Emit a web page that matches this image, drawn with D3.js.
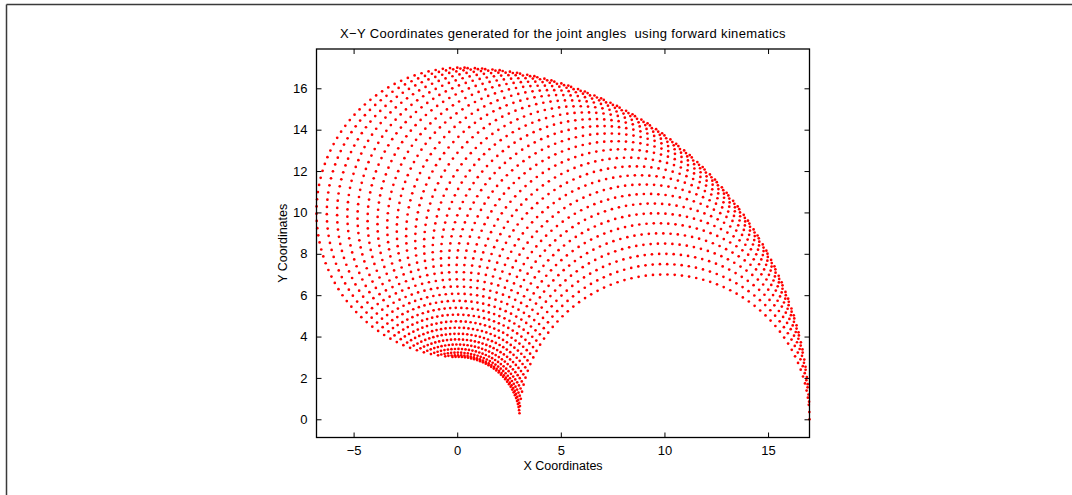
<!DOCTYPE html>
<html>
<head>
<meta charset="utf-8">
<script src="https://cdn.jsdelivr.net/npm/d3@7"></script>
<style>
  html, body { margin: 0; padding: 0; background: #fff; }
  svg { display: block; }
  text { font-family: "Liberation Sans", Arial, Helvetica, sans-serif; fill: #000; }
</style>
</head>
<body>
<svg id="chart" width="1072" height="495"></svg>
<script>
// Link lengths of the two-link planar arm
const l1 = 10;
const l2 = 7;

// Joint angle samples (radians)
const theta1 = [0, 0.05, 0.10, 0.15, 0.20, 0.25, 0.30, 0.35, 0.40, 0.45, 0.50, 0.55, 0.60, 0.65, 0.70, 0.75,
                0.80, 0.85, 0.90, 0.95, 1.00, 1.05, 1.10, 1.15, 1.20, 1.25, 1.30, 1.35, 1.40, 1.45, 1.50, 1.55];
const theta2 = [0, 0.05, 0.10, 0.15, 0.20, 0.25, 0.30, 0.35, 0.40, 0.45, 0.50, 0.55, 0.60, 0.65, 0.70, 0.75,
                0.80, 0.85, 0.90, 0.95, 1.00, 1.05, 1.10, 1.15, 1.20, 1.25, 1.30, 1.35, 1.40, 1.45, 1.50, 1.55,
                1.60, 1.65, 1.70, 1.75, 1.80, 1.85, 1.90, 1.95, 2.00, 2.05, 2.10, 2.15, 2.20, 2.25, 2.30, 2.35,
                2.40, 2.45, 2.50, 2.55, 2.60, 2.65, 2.70, 2.75, 2.80, 2.85, 2.90, 2.95, 3.00, 3.05, 3.10];

// Axis ticks and labels
const xTicks = [-5, 0, 5, 10, 15];
const yTicks = [0, 2, 4, 6, 8, 10, 12, 14, 16];
const xDomain = [-6.79, 17.0];
const yDomain = [-0.88, 17.9];
const titleText = "X\u2212Y Coordinates generated for the joint angles  using forward kinematics";
const xLabel = "X Coordinates";
const yLabel = "Y Coordinates";

// Forward kinematics: end-effector position for every (theta1, theta2) pair
const points = [];
theta1.forEach(t1 => {
  theta2.forEach(t2 => {
    points.push({
      x: l1 * Math.cos(t1) + l2 * Math.cos(t1 + t2),
      y: l1 * Math.sin(t1) + l2 * Math.sin(t1 + t2)
    });
  });
});

const svg = d3.select("#chart");
const box = { left: 316.5, right: 809.5, top: 49, bottom: 437.5 };

const x = d3.scaleLinear().domain(xDomain).range([box.left, box.right]);
const y = d3.scaleLinear().domain(yDomain).range([box.bottom, box.top]);

// Figure frame
svg.append("line").attr("x1", 6.5).attr("y1", 4.5).attr("x2", 1072).attr("y2", 4.5)
  .attr("stroke", "#3a3a3a").attr("stroke-width", 1.5);
svg.append("line").attr("x1", 6.5).attr("y1", 4.5).attr("x2", 6.5).attr("y2", 495)
  .attr("stroke", "#3a3a3a").attr("stroke-width", 1.5);

// Scatter of end-effector positions
const plot = svg.append("g");
plot.selectAll("circle").data(points).join("circle")
  .attr("cx", d => x(d.x))
  .attr("cy", d => y(d.y))
  .attr("r", 1.35)
  .attr("fill", "#ff0000");

// Axes with inward ticks on all four sides
const tk = 5;
const fs = "13px";
const axB = d3.axisBottom(x).tickValues(xTicks).tickSizeInner(-tk).tickSizeOuter(0).tickPadding(8)
  .tickFormat(d => d < 0 ? "\u2212" + Math.abs(d) : d);
const axT = d3.axisTop(x).tickValues(xTicks).tickSizeInner(-tk).tickSizeOuter(0).tickFormat("");
const axL = d3.axisLeft(y).tickValues(yTicks).tickSizeInner(-tk).tickSizeOuter(0).tickPadding(9);
const axR = d3.axisRight(y).tickValues(yTicks).tickSizeInner(-tk).tickSizeOuter(0).tickFormat("");

function style(g) {
  g.select(".domain").remove();
  g.selectAll(".tick line").attr("stroke", "#000").attr("stroke-width", 1);
  g.selectAll(".tick text").style("font-size", fs).style("font-family", '"Liberation Sans", Arial, sans-serif').attr("fill", "#000");
}
svg.append("g").attr("transform", `translate(0,${box.bottom})`).call(axB).call(style);
svg.append("g").attr("transform", `translate(0,${box.top})`).call(axT).call(style);
svg.append("g").attr("transform", `translate(${box.left},0)`).call(axL).call(style);
svg.append("g").attr("transform", `translate(${box.right},0)`).call(axR).call(style);

// Plot box
svg.append("rect")
  .attr("x", box.left).attr("y", box.top)
  .attr("width", box.right - box.left).attr("height", box.bottom - box.top)
  .attr("fill", "none").attr("stroke", "#000").attr("stroke-width", 1.3);

// Title and axis labels
svg.append("text").attr("x", (box.left + box.right) / 2).attr("y", 38)
  .attr("text-anchor", "middle").style("font-size", "13px").style("letter-spacing", "0.35px")
  .style("white-space", "pre")
  .text(titleText);
svg.append("text").attr("x", (box.left + box.right) / 2).attr("y", 470)
  .attr("text-anchor", "middle").style("font-size", "12.5px").text(xLabel);
svg.append("text").attr("transform", `translate(287,${(box.top + box.bottom) / 2}) rotate(-90)`)
  .attr("text-anchor", "middle").style("font-size", "12.5px").text(yLabel);
</script>
</body>
</html>
